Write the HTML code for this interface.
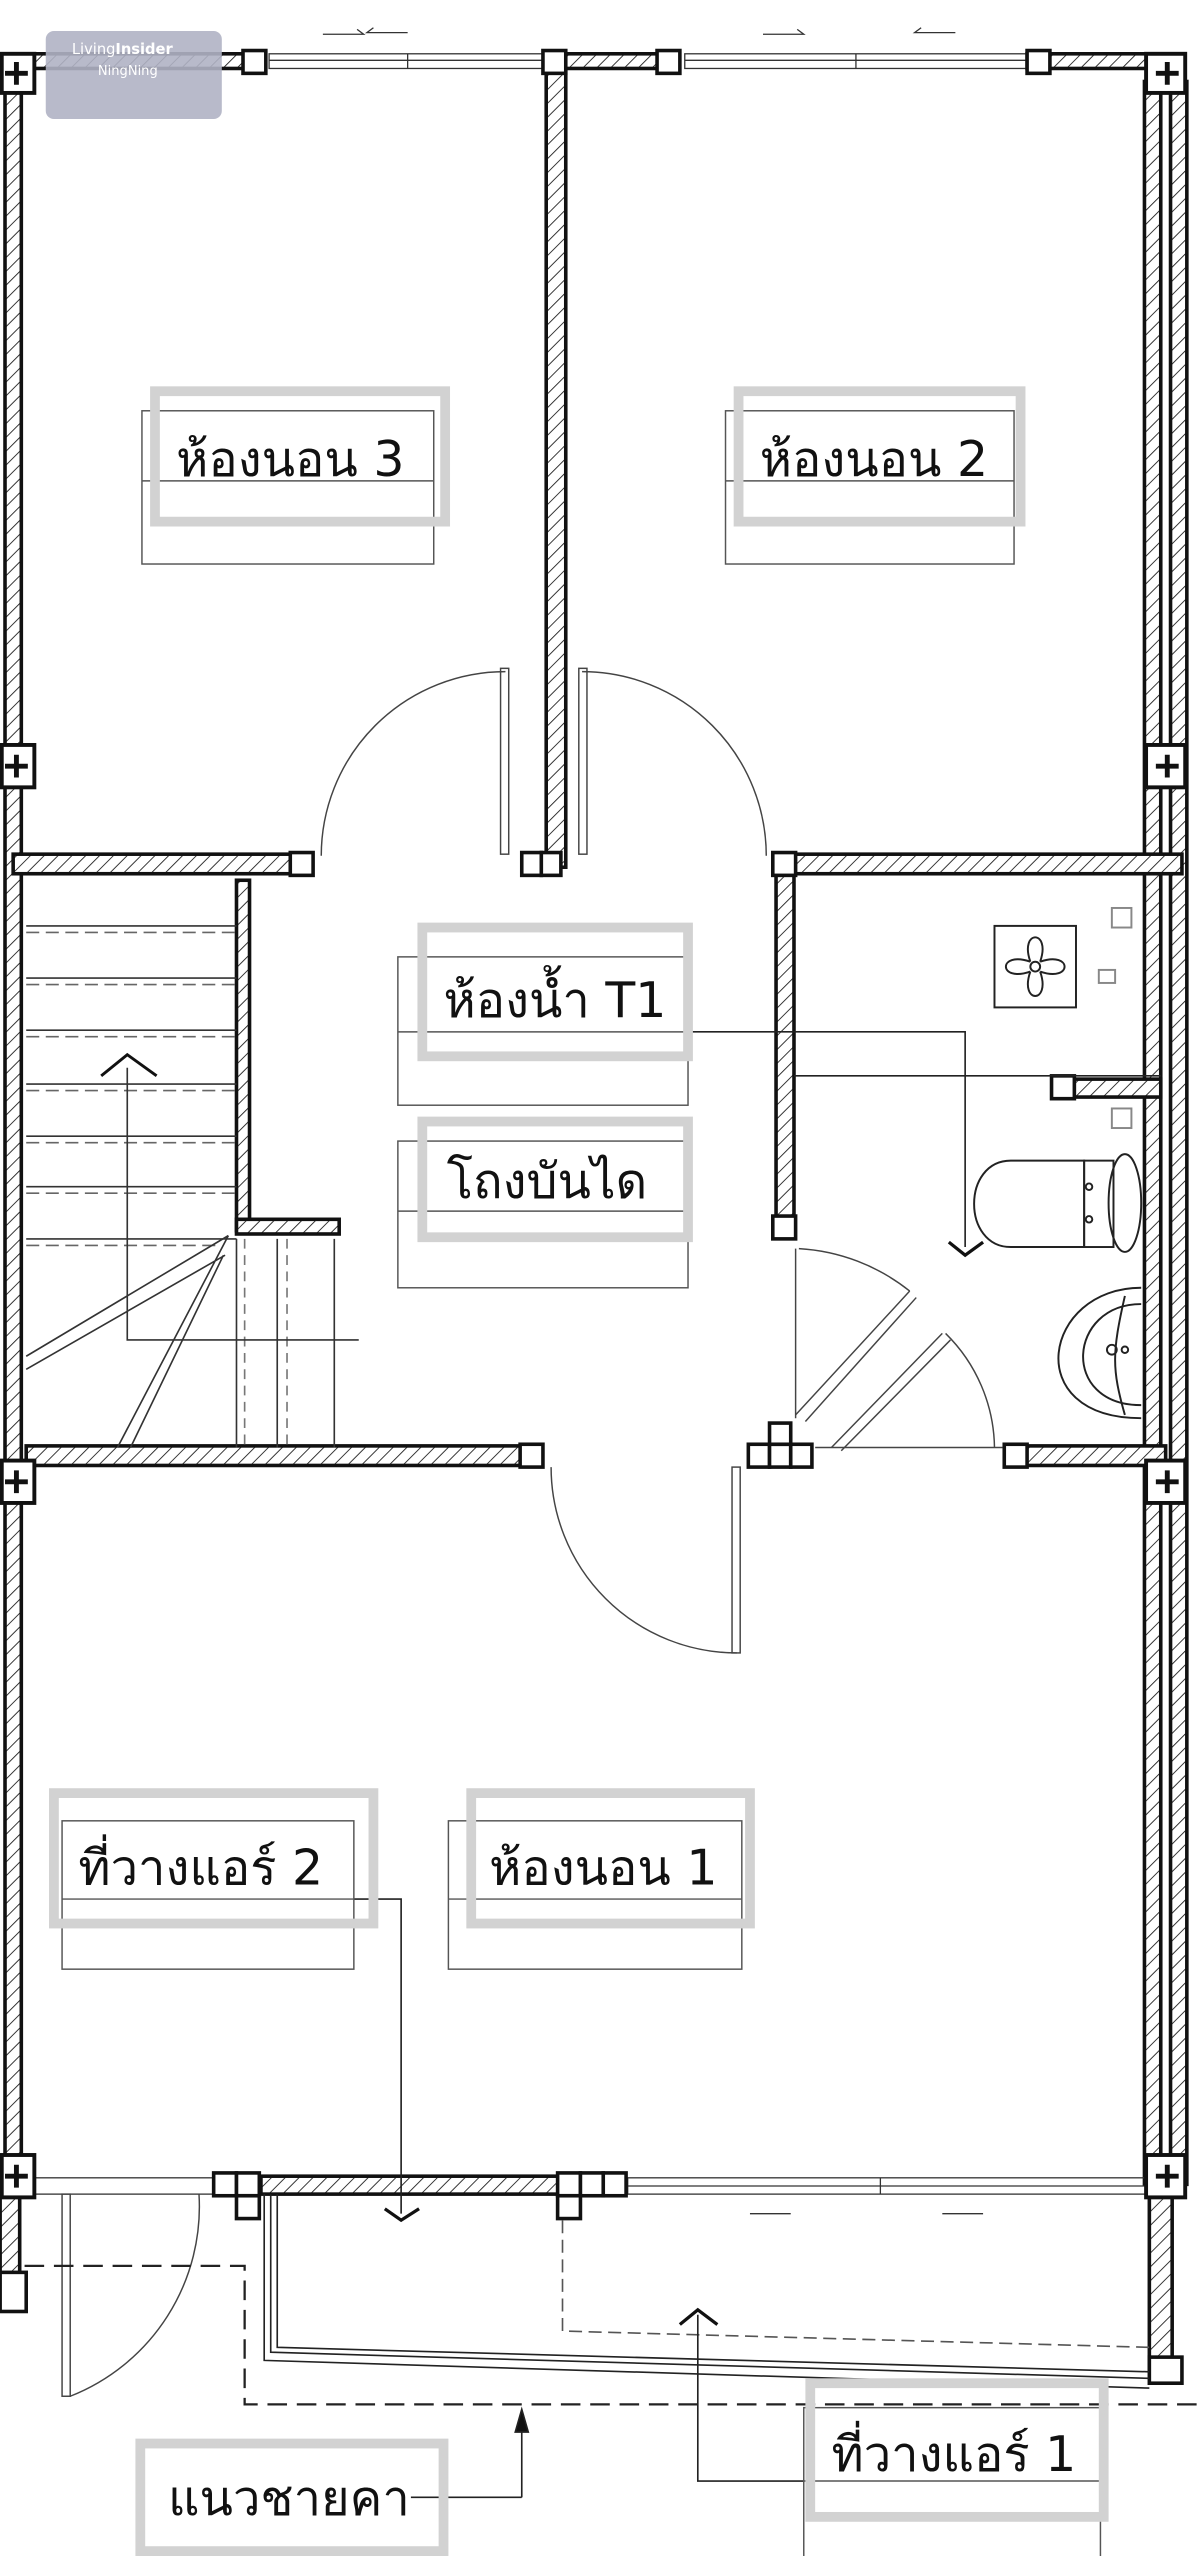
<!DOCTYPE html>
<html><head><meta charset="utf-8">
<style>
html,body{margin:0;padding:0;background:#fff;}
svg{display:block;}
text{font-family:"DejaVu Sans","Liberation Sans",sans-serif;}
</style></head>
<body>
<svg width="1200" height="2556" viewBox="0 0 736 1568" xmlns="http://www.w3.org/2000/svg">
<defs>
<pattern id="h" width="6" height="6" patternUnits="userSpaceOnUse" patternTransform="rotate(45)">
<rect width="6" height="6" fill="#fff"/>
<line x1="0" y1="0" x2="0" y2="6" stroke="#222" stroke-width="1.1"/>
</pattern>
</defs>
<rect width="736" height="1568" fill="#fff"/>

<g stroke="#111" stroke-width="2.2" fill="url(#h)" stroke-linejoin="miter">
<rect x="10" y="33" width="150" height="9"/>
<rect x="336" y="33" width="80" height="9"/>
<rect x="630" y="33" width="90" height="9"/>
<rect x="3" y="50" width="10" height="1290"/>
<rect x="702" y="50" width="10" height="1290"/>
<rect x="718" y="50" width="10" height="1290"/>
<rect x="335" y="42" width="12" height="490"/>
<rect x="8" y="524" width="180" height="12"/>
<rect x="475" y="524" width="250" height="12"/>
<rect x="476" y="530" width="11" height="225"/>
<rect x="652" y="662" width="60" height="11"/>
<rect x="16" y="887" width="312" height="12"/>
<rect x="620" y="887" width="95" height="12"/>
<rect x="160" y="1335" width="195" height="11"/>
<rect x="705" y="1346" width="14" height="108"/>
<rect x="0" y="1346" width="12" height="60"/>
<rect x="145" y="540" width="8" height="215"/>
<rect x="145" y="748" width="63" height="9"/>
</g>

<g stroke="#333" stroke-width="0.8" fill="none">
<rect x="165" y="33" width="170" height="9"/><line x1="165" y1="37" x2="335" y2="37"/><line x1="250" y1="33" x2="250" y2="42"/>
<rect x="420" y="33" width="210" height="9"/><line x1="420" y1="37" x2="630" y2="37"/><line x1="525" y1="33" x2="525" y2="42"/>
<path d="M198 21h25l-4 -3M250 20h-25l4 -3M468 21h25l-4 -3M586 20h-25l4 -3"/>
<rect x="20" y="1336" width="125" height="10"/>
<rect x="385" y="1336" width="320" height="10"/><line x1="385" y1="1341" x2="705" y2="1341"/><line x1="540" y1="1336" x2="540" y2="1346"/>
<path d="M460 1358h25M578 1358h25"/>
</g>

<g stroke="#111" stroke-width="2.4" fill="#fff">
<rect x="1" y="33" width="20" height="24"/>
<rect x="703" y="33" width="24" height="24"/>
<rect x="1" y="457" width="20" height="26"/>
<rect x="703" y="457" width="24" height="26"/>
<rect x="1" y="896" width="20" height="26"/>
<rect x="703" y="896" width="24" height="26"/>
<rect x="1" y="1322" width="20" height="26"/>
<rect x="703" y="1322" width="24" height="26"/>
</g>
<g stroke="#111" stroke-width="3">
<path d="M3 45h14M10 38v14M709 45h14M716 38v14M3 470h14M10 463v14M709 470h14M716 463v14M3 909h14M10 902v14M709 909h14M716 902v14M3 1335h14M10 1328v14M709 1335h14M716 1328v14"/>
</g>
<g stroke="#111" stroke-width="2.2" fill="#fff">
<rect x="149" y="31" width="14" height="14"/>
<rect x="333" y="31" width="14" height="14"/>
<rect x="403" y="31" width="14" height="14"/>
<rect x="630" y="31" width="14" height="14"/>
<rect x="178" y="523" width="14" height="14"/>
<rect x="320" y="523" width="12" height="14"/><rect x="332" y="523" width="12" height="14"/>
<rect x="474" y="523" width="14" height="14"/>
<rect x="474" y="746" width="14" height="14"/>
<rect x="645" y="660" width="14" height="14"/>
<rect x="319" y="886" width="14" height="14"/>
<rect x="459" y="886" width="13" height="14"/><rect x="472" y="886" width="13" height="14"/><rect x="485" y="886" width="13" height="14"/><rect x="472" y="873" width="13" height="13"/>
<rect x="616" y="886" width="14" height="14"/>
<rect x="131" y="1333" width="14" height="14"/><rect x="145" y="1333" width="14" height="14"/><rect x="145" y="1347" width="14" height="14"/>
<rect x="342" y="1333" width="14" height="14"/><rect x="356" y="1333" width="14" height="14"/><rect x="370" y="1333" width="14" height="14"/><rect x="342" y="1347" width="14" height="14"/>
<rect x="705" y="1446" width="20" height="16"/>
<rect x="0" y="1394" width="16" height="24"/>
</g>

<g stroke="#444" stroke-width="0.9" fill="none">
<path d="M197 525 A113 113 0 0 1 310 412"/><rect x="307" y="410" width="5" height="114"/>
<path d="M470 525 A113 113 0 0 0 357 412"/><rect x="355" y="410" width="5" height="114"/>
<path d="M338 900 A114 114 0 0 0 452 1014"/><rect x="449" y="900" width="5" height="114"/>
<line x1="488" y1="766" x2="488" y2="870"/>
<path d="M490 766 A120 120 0 0 1 558 792"/><path d="M488 868 L558 792 M494 872 L562 796"/>
<path d="M510 888 L578 818 M516 890 L583 822"/><path d="M580 818 A100 100 0 0 1 610 888"/>
<line x1="500" y1="888" x2="615" y2="888"/>
<rect x="38" y="1346" width="5" height="124"/><path d="M43 1470 A125 125 0 0 0 122 1346"/>
</g>

<g stroke="#333" stroke-width="1" fill="none">
<path d="M16 568h129M16 600h129M16 632h129M16 665h129M16 697h129M16 728h129M16 760h129"/>
<path d="M16 572h129M16 604h129M16 636h129M16 669h129M16 701h129M16 732h129M16 764h120" stroke-dasharray="8 4" stroke="#666"/>
<path d="M140 758 L16 832 M140 758 L72 888 M138 770 L16 840 M137 770 L80 888" />
<path d="M145 760v128M170 760v128M205 760v128"/>
<path d="M150 760v128M176 760v128" stroke-dasharray="6 4" stroke="#777"/>
<path d="M78 655 V822 H220"/>
<path d="M62 660 L78 647 L96 660" stroke-width="1.8" stroke="#111"/>
</g>

<g stroke="#222" stroke-width="1.2" fill="none">
<rect x="610" y="568" width="50" height="50"/>
<circle cx="635" cy="593" r="3"/>
<path d="M632 590 C625 570 645 570 638 590 M638 596 C645 616 625 616 632 596 M632 590 C612 583 612 603 632 596 M638 590 C658 583 658 603 638 596"/>
<rect x="682" y="557" width="12" height="12" stroke="#888"/>
<rect x="674" y="595" width="10" height="8" stroke="#888"/>
<rect x="682" y="680" width="12" height="12" stroke="#888"/>
<path d="M665 712 H620 C590 712 590 765 620 765 H665 Z"/>
<rect x="665" y="712" width="18" height="53"/>
<ellipse cx="690" cy="738" rx="10" ry="30"/>
<circle cx="668" cy="728" r="2"/><circle cx="668" cy="748" r="2"/>
<path d="M700 790 C640 790 625 870 700 870" /><path d="M700 800 C655 800 650 862 700 862"/>
<path d="M690 795 C682 830 682 840 690 868"/>
<circle cx="682" cy="828" r="3"/><circle cx="690" cy="828" r="2"/>
</g>

<g stroke="#222" stroke-width="1" fill="none">
<path d="M162 1346 V1448 L705 1465"/>
<path d="M166 1346 V1443 L705 1459"/>
<path d="M170 1346 V1440 L705 1455"/>
<path d="M345 1362 V1430 L705 1440" stroke-dasharray="8 4" stroke="#555"/>
<path d="M15 1390 H150 V1475 H736" stroke-dasharray="12 6" stroke-width="1.4"/>
<path d="M320 1532 V1480"/><path d="M316 1492 L320 1478 L324 1492 Z" fill="#111"/>
<path d="M252 1532 H320"/>
<path d="M428 1420 V1522 H493"/>
<path d="M417 1426 L428 1417 L440 1426" stroke-width="2" stroke="#111"/>
<path d="M217 1165 H246 V1358"/>
<path d="M236 1355 L246 1362 L257 1355" stroke-width="2" stroke="#111"/>
<path d="M424 633 H592 V765"/>
<path d="M487 660 H712"/>
<path d="M582 762 L592 770 L603 762" stroke-width="2" stroke="#111"/>
</g>

<g fill="none">
<g stroke="#555" stroke-width="0.9">
<rect x="87" y="252" width="179" height="94"/><line x1="87" y1="295" x2="266" y2="295"/>
<rect x="445" y="252" width="177" height="94"/><line x1="445" y1="295" x2="622" y2="295"/>
<rect x="244" y="587" width="178" height="91"/><line x1="244" y1="633" x2="422" y2="633"/>
<rect x="244" y="700" width="178" height="90"/><line x1="244" y1="743" x2="422" y2="743"/>
<rect x="38" y="1117" width="179" height="91"/><line x1="38" y1="1165" x2="217" y2="1165"/>
<rect x="275" y="1117" width="180" height="91"/><line x1="275" y1="1165" x2="455" y2="1165"/>
<rect x="493" y="1477" width="182" height="95"/><line x1="493" y1="1522" x2="675" y2="1522"/>
</g>
<g stroke="#d2d2d2" stroke-width="6">
<rect x="95" y="240" width="178" height="80"/>
<rect x="453" y="240" width="173" height="80"/>
<rect x="259" y="569" width="163" height="79"/>
<rect x="259" y="688" width="163" height="71"/>
<rect x="33" y="1100" width="196" height="80"/>
<rect x="289" y="1100" width="171" height="80"/>
<rect x="497" y="1462" width="180" height="82"/>
<rect x="86" y="1499" width="186" height="66"/>
</g>
</g>
<g fill="#111" font-size="30">
<text x="108" y="292">ห้องนอน 3</text>
<text x="466" y="292">ห้องนอน 2</text>
<text x="272" y="624">ห้องน้ำ T1</text>
<text x="274" y="735">โถงบันได</text>
<text x="48" y="1156">ที่วางแอร์ 2</text>
<text x="300" y="1156">ห้องนอน 1</text>
<text x="510" y="1516">ที่วางแอร์ 1</text>
<text x="103" y="1543">แนวชายคา</text>
</g>

<rect x="28" y="19" width="108" height="54" rx="5" fill="#b0b2c4" opacity="0.9"/>
<text x="44" y="33" font-size="9" fill="#fff">Living<tspan font-weight="bold">Insider</tspan></text>
<text x="60" y="46" font-size="8" fill="#fff">NingNing</text>
</svg>
</body></html>
